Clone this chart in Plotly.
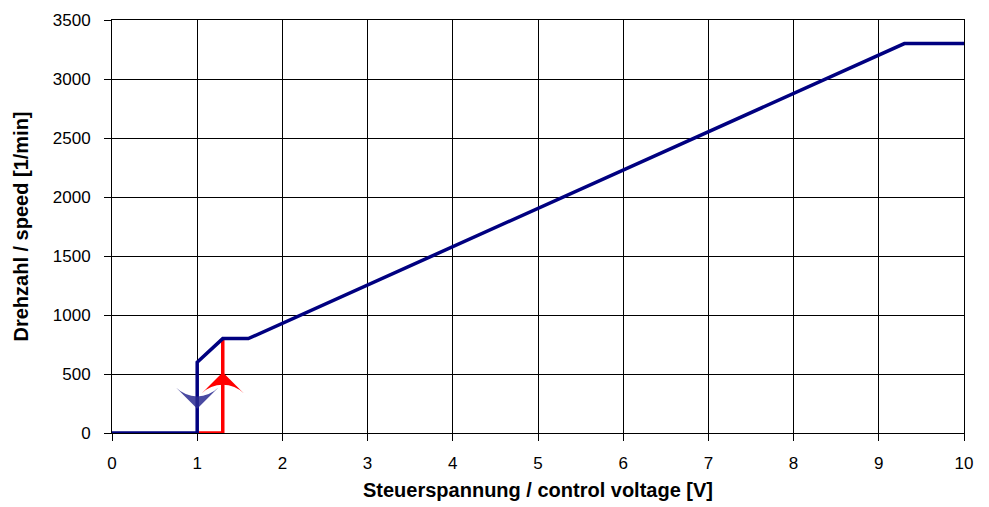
import plotly.graph_objects as go

# Data
blue_x = [0, 1, 1, 1.3, 1.6, 9.3, 10]
blue_y = [0, 0, 600, 800, 800, 3300, 3300]
red_x = [1, 1.3, 1.3]
red_y = [0, 0, 800]
arrow_down_x = [1.0]
arrow_down_y = [205]
arrow_up_x = [1.3]
arrow_up_y = [515]
x_ticks = [0, 1, 2, 3, 4, 5, 6, 7, 8, 9, 10]
y_ticks = [0, 500, 1000, 1500, 2000, 2500, 3000, 3500]

fig = go.Figure()
fig.add_trace(go.Scatter(x=red_x, y=red_y, mode="lines",
                         line=dict(color="#FF0000", width=3.5), hoverinfo="skip"))
fig.add_trace(go.Scatter(x=blue_x, y=blue_y, mode="lines",
                         line=dict(color="#000080", width=3.5), hoverinfo="skip"))
fig.add_trace(go.Scatter(x=arrow_up_x, y=arrow_up_y, mode="markers",
                         marker=dict(symbol="arrow-wide", size=30, angle=0, color="#FF0000",
                                     line=dict(width=0)), hoverinfo="skip"))
fig.add_trace(go.Scatter(x=arrow_down_x, y=arrow_down_y, mode="markers",
                         marker=dict(symbol="arrow-wide", size=30, angle=180, color="#2A2A90",
                                     opacity=0.85, line=dict(width=0)), hoverinfo="skip"))

axis_font = dict(family="Liberation Sans, Arial, sans-serif", size=17, color="#000000")
title_font = dict(family="Liberation Sans, Arial, sans-serif", size=20, color="#000000")

fig.update_layout(
    width=989, height=507,
    margin=dict(l=104, r=33, t=12, b=82, autoexpand=False),
    paper_bgcolor="white", plot_bgcolor="white",
    showlegend=False,
    xaxis=dict(
        range=[0, 10], tickvals=x_ticks, ticktext=[str(v) for v in x_ticks],
        showgrid=True, gridcolor="black", gridwidth=1,
        showline=True, linecolor="black", linewidth=1, mirror=True,
        ticks="outside", ticklen=7, tickcolor="black", automargin=False,
        tickfont=axis_font, zeroline=False, ticklabelstandoff=8,
        title=dict(text="<b>Steuerspannung / control voltage [V]</b>", font=title_font, standoff=10),
    ),
    yaxis=dict(
        range=[0, 3500], tickvals=y_ticks, ticktext=[str(v) for v in y_ticks],
        showgrid=True, gridcolor="black", gridwidth=1,
        showline=True, linecolor="black", linewidth=1, mirror=True,
        ticks="outside", ticklen=7, tickcolor="black", automargin=False,
        tickfont=axis_font, zeroline=False, ticklabelstandoff=10,
        title=dict(text="<b>Drehzahl / speed [1/min]</b>", font=title_font, standoff=18),
    ),
)

fig.write_html("out.html")
